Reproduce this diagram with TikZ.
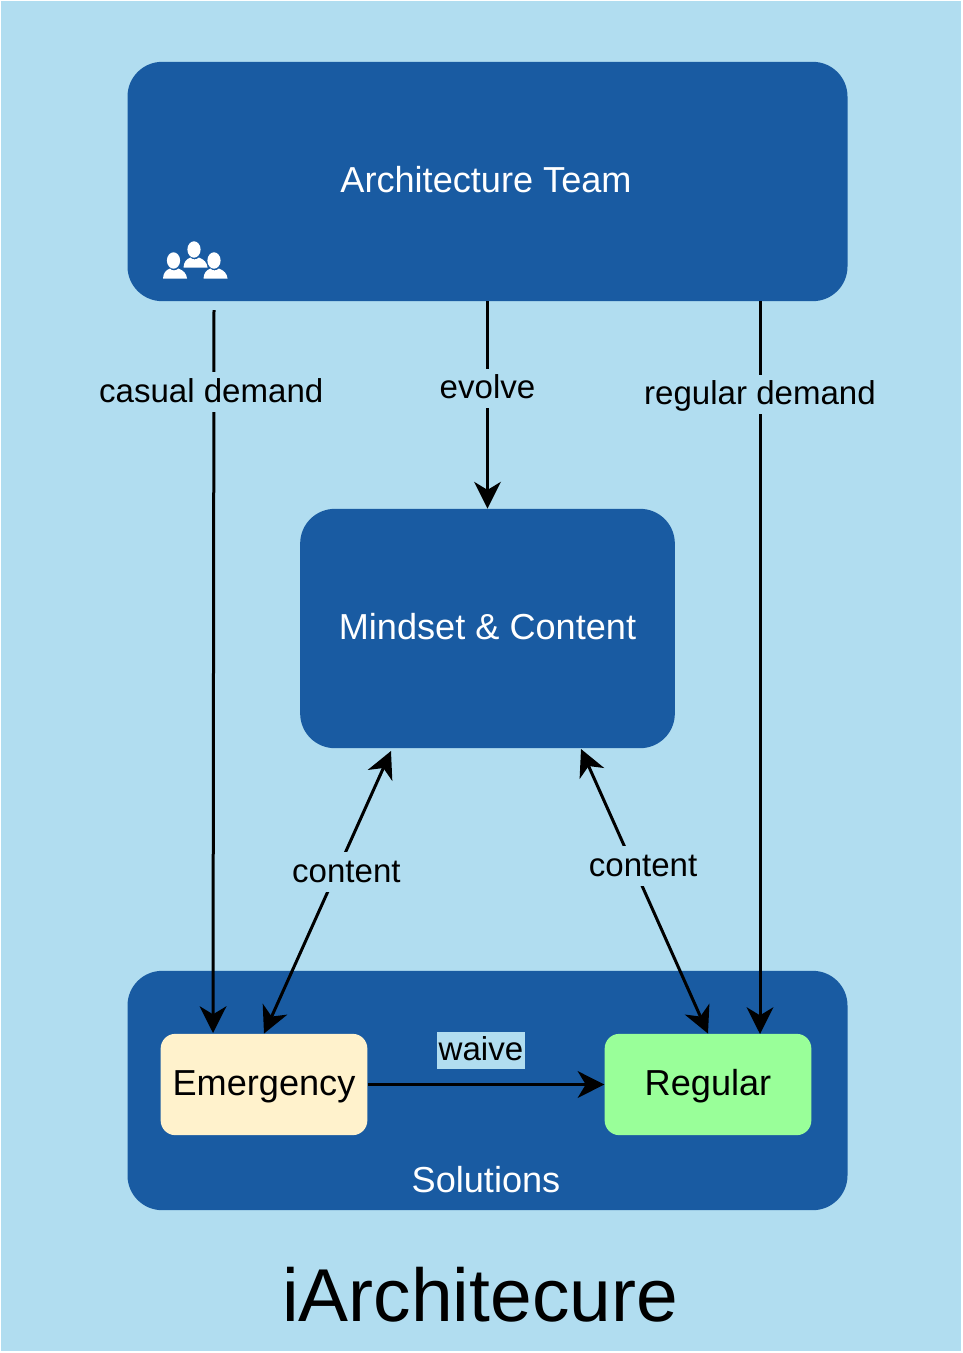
\documentclass[tikz,border=0pt]{standalone}
\usepackage{fontspec}
\setmainfont{Liberation Sans}
\usetikzlibrary{arrows.meta}
\definecolor{skyback}{HTML}{B1DDF0}
\definecolor{teamblue}{HTML}{195BA2}
\definecolor{emergfill}{HTML}{FFF2CC}
\definecolor{regfill}{HTML}{99FF99}
\begin{document}
\begin{tikzpicture}
[
x=0.75pt, y=-0.75pt,
bigbox/.style={rectangle, fill=teamblue, rounded corners=26pt, minimum height=179.5pt, inner sep=0},
boxtext/.style={text=white, font=\fontsize{27.1}{32}\selectfont, inner sep=0},
smallbox/.style={rectangle, rounded corners=11pt, text=black, font=\fontsize{27.1}{32}\selectfont, minimum width=155pt, minimum height=76pt, inner sep=0, text height=19.5pt, text depth=2.7pt},
edgelabel/.style={fill=skyback, text=black, font=\fontsize{24.8}{29}\selectfont, inner xsep=2pt, inner ysep=3.2pt, text height=19.5pt, text depth=4pt},
flow/.style={-{Stealth[length=20pt, width=20pt, inset=6pt]}, line width=2.25pt, black},
bothflow/.style={{Stealth[length=20pt, width=20pt, inset=6pt]}-{Stealth[length=20pt, width=20pt, inset=6pt]}, line width=2.25pt, black}
]
%Background
\fill[skyback] (1,1) rectangle (961,1351);
\useasboundingbox (0,0) rectangle (963,1353);

%Nodes
\node[bigbox, minimum width=540pt] (team)     at (487.5,181.5) {};
\node[bigbox, minimum width=281pt] (mindset)  at (487.5,628.5) {};
\node[bigbox, minimum width=540pt] (solutions) at (487.5,1090.5) {};
\node[smallbox, fill=emergfill] (emergency) at (264,1084.5) {Emergency};
\node[smallbox, fill=regfill]   (regular)   [right of=emergency, node distance=333pt] {Regular};

\node[boxtext] (teamtext) at (486,180) {Architecture Team};
\node[boxtext] (mindtext) at (487.5,627) {Mindset \& Content};
\node[boxtext] (soltext)  at (486,1180) {Solutions};
\node[font=\fontsize{56.2}{66}\selectfont, inner sep=0] (title) at (480,1295) {iArchitecure};

%Icon
\foreach \px/\py in {173.5/260.5, 194/249.5, 214/260.5}
{
\fill[white] (\px,\py) ellipse (6.6 and 8.2);
\fill[white] (\px-10.5,\py+18) .. controls (\px-10,\py+12) and (\px-8,\py+10) .. (\px-3.5,\py+8) .. controls (\px-2,\py+10.5) and (\px+2.5,\py+10.5) .. (\px+5,\py+8) .. controls (\px+10,\py+10) and (\px+13,\py+13) .. (\px+13.5,\py+18) -- cycle;
}

%Lines
\coordinate (casualstart) at (214,310);
\coordinate (casualend)   at (213,1033);
\coordinate (regularend)  at (760,1034);
\coordinate (mindleft)    at (391,751);
\coordinate (mindright)   at (581,749);

\draw[flow] (team.south) -- node[edgelabel, pos=.42] (evolvelabel) {evolve} (mindset.north);
\draw[flow] (casualstart) -- node[edgelabel, pos=.113, xshift=-2pt] (casuallabel) {casual demand} (casualend);
\draw[flow] (team.south -| regularend) -- node[edgelabel, pos=.127] (regularlabel) {regular demand} (regularend);
\draw[bothflow] (mindleft) -- node[edgelabel, pos=.427, xshift=7.2pt] (contentleft) {content} (emergency.north);
\draw[bothflow] (mindright) -- node[edgelabel, pos=.411, xshift=7.4pt] (contentright) {content} (regular.north);
\draw[flow] (emergency.east) -- (regular.west);
\node[edgelabel, inner xsep=1pt, inner ysep=2pt] (waivelabel) at (481,1050.5) {waive};
\end{tikzpicture}
\end{document}
